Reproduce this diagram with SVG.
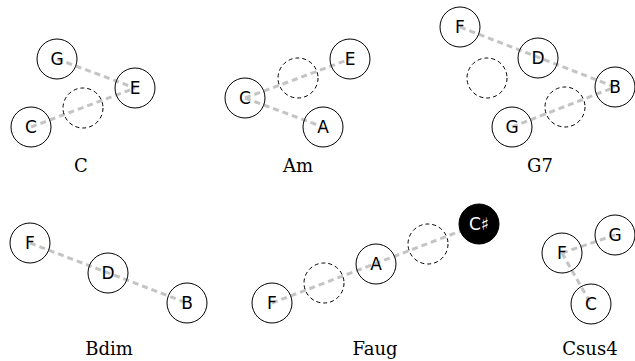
<svg xmlns="http://www.w3.org/2000/svg" width="635" height="361" viewBox="0 0 635 361">
<style>
.n{fill:none;stroke:#000;stroke-width:1}
.blk{fill:#000;stroke:#000;stroke-width:1}
.g{fill:none;stroke:#000;stroke-width:1;stroke-dasharray:4,3}
.t{font-family:"DejaVu Sans",sans-serif;font-size:17px;text-anchor:middle;fill:#000}
.tw{fill:#fff}
.lbl{font-family:"DejaVu Serif",serif;font-size:18px;text-anchor:middle;fill:#000}
.c line{stroke:#c4c4c4;stroke-width:3;stroke-dasharray:6,4}
</style>
<rect width="635" height="361" fill="#fff"/>
<g id="connectors" class="c">
<line x1="57" y1="59" x2="135" y2="88"/>
<line x1="31" y1="127" x2="135" y2="88"/>
<line x1="245" y1="98" x2="350" y2="59"/>
<line x1="245" y1="98" x2="323" y2="127"/>
<line x1="460" y1="27" x2="615" y2="87"/>
<line x1="512" y1="127" x2="615" y2="87"/>
<line x1="30" y1="243" x2="187" y2="303"/>
<line x1="272" y1="303" x2="479" y2="224"/>
<line x1="562" y1="253" x2="615" y2="235"/>
<line x1="562" y1="253" x2="591" y2="304"/>
</g>
<g id="chord-C">
<circle class="g" cx="83" cy="108" r="20"/>
<g id="C-G"><circle class="n" cx="57" cy="59" r="20"/><text class="t" x="57" y="65">G</text></g>
<g id="C-E"><circle class="n" cx="135" cy="88" r="20"/><text class="t" x="135" y="94">E</text></g>
<g id="C-C"><circle class="n" cx="31" cy="127" r="20"/><text class="t" x="31" y="133">C</text></g>
<text class="lbl" x="81" y="172">C</text>
</g>
<g id="chord-Am">
<circle class="g" cx="298" cy="78" r="20"/>
<g id="Am-C"><circle class="n" cx="245" cy="98" r="20"/><text class="t" x="245" y="104">C</text></g>
<g id="Am-E"><circle class="n" cx="350" cy="59" r="20"/><text class="t" x="350" y="65">E</text></g>
<g id="Am-A"><circle class="n" cx="323" cy="127" r="20"/><text class="t" x="323" y="133">A</text></g>
<text class="lbl" x="298" y="172">Am</text>
</g>
<g id="chord-G7">
<circle class="g" cx="487" cy="78" r="20"/>
<circle class="g" cx="565" cy="107" r="20"/>
<g id="G7-F"><circle class="n" cx="460" cy="27" r="20"/><text class="t" x="460" y="33">F</text></g>
<g id="G7-D"><circle class="n" cx="538" cy="58" r="20"/><text class="t" x="538" y="64">D</text></g>
<g id="G7-B"><circle class="n" cx="615" cy="87" r="20"/><text class="t" x="615" y="93">B</text></g>
<g id="G7-G"><circle class="n" cx="512" cy="127" r="20"/><text class="t" x="512" y="133">G</text></g>
<text class="lbl" x="540" y="172">G7</text>
</g>
<g id="chord-Bdim">
<g id="Bdim-F"><circle class="n" cx="30" cy="243" r="20"/><text class="t" x="30" y="249">F</text></g>
<g id="Bdim-D"><circle class="n" cx="108" cy="273" r="20"/><text class="t" x="108" y="279">D</text></g>
<g id="Bdim-B"><circle class="n" cx="187" cy="303" r="20"/><text class="t" x="187" y="309">B</text></g>
<text class="lbl" x="109" y="355">Bdim</text>
</g>
<g id="chord-Faug">
<circle class="g" cx="324" cy="283" r="20"/>
<circle class="g" cx="428" cy="244" r="20"/>
<g id="Faug-F"><circle class="n" cx="272" cy="303" r="20"/><text class="t" x="272" y="309">F</text></g>
<g id="Faug-A"><circle class="n" cx="376" cy="264" r="20"/><text class="t" x="376" y="270">A</text></g>
<g id="Faug-Cs"><circle class="blk" cx="479" cy="224" r="20"/><text class="t tw" x="479" y="230">C♯</text></g>
<text class="lbl" x="375" y="355">Faug</text>
</g>
<g id="chord-Csus4">
<g id="Csus4-F"><circle class="n" cx="562" cy="253" r="20"/><text class="t" x="562" y="259">F</text></g>
<g id="Csus4-G"><circle class="n" cx="615" cy="235" r="20"/><text class="t" x="615" y="241">G</text></g>
<g id="Csus4-C"><circle class="n" cx="591" cy="304" r="20"/><text class="t" x="591" y="310">C</text></g>
<text class="lbl" x="590" y="355">Csus4</text>
</g>
</svg>
